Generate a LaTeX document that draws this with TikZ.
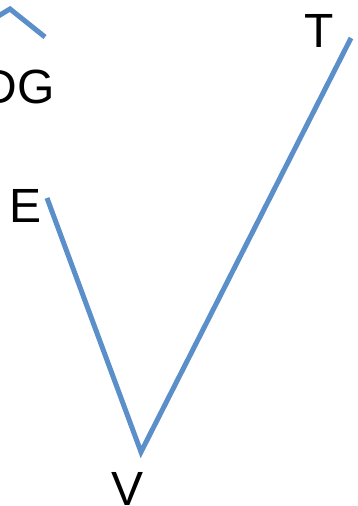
\documentclass[tikz,border=0pt]{standalone}
\usepackage{fontspec}
\setmainfont{Liberation Sans}
\definecolor{lineblue}{RGB}{91,143,201}
\begin{document}
\begin{tikzpicture}[x=1pt,y=-1pt,
  lbl/.style={inner sep=0pt,font=\fontsize{48}{50}\selectfont},
  conn/.style={draw=lineblue,line width=5pt,line join=miter}]
\useasboundingbox (0,0) rectangle (357,506);
\clip (0,0) rectangle (357,506);
\node[lbl,anchor=base east] (dg) at (55,103) {DG};
\node[lbl,anchor=base east] (e) at (42,222) {E};
\node[lbl,anchor=base] (t) at (319,47) {T};
\node[lbl,anchor=base] (v) at (127.5,505) {V};
\coordinate (a0) at (-10,21);
\coordinate (a1) at (10,9);
\coordinate (a2) at (45,37);
\coordinate (pe) at (47,198);
\coordinate (pv) at (141,452);
\coordinate (pt) at (351,38);
\draw[conn] (a0) -- (a1) -- (a2);
\draw[conn] (pe) -- (pv) -- (pt);
\end{tikzpicture}
\end{document}
